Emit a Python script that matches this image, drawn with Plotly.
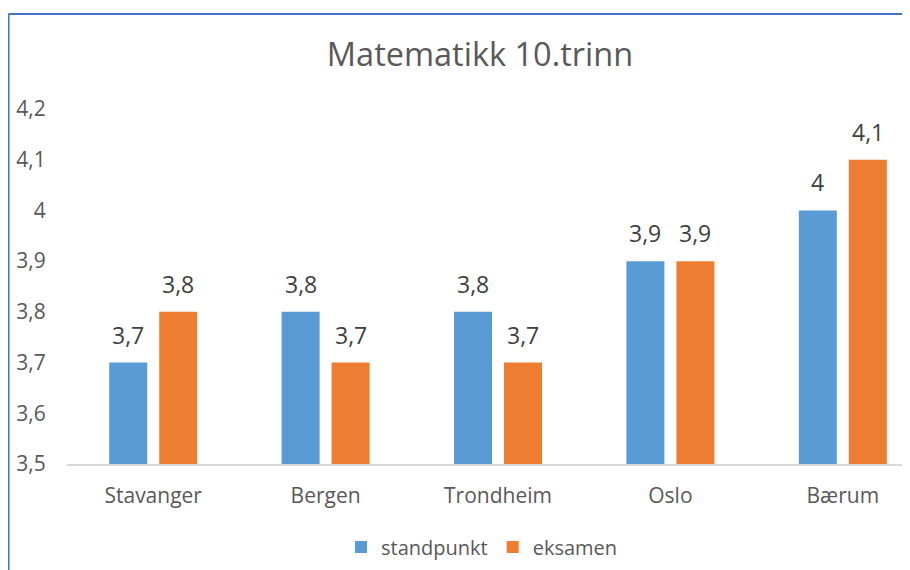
import plotly.graph_objects as go

categories = ["Stavanger", "Bergen", "Trondheim", "Oslo", "Bærum"]
standpunkt = [3.7, 3.8, 3.8, 3.9, 4.0]
eksamen = [3.8, 3.7, 3.7, 3.9, 4.1]
series_names = ["standpunkt", "eksamen"]
y_ticks = [3.5, 3.6, 3.7, 3.8, 3.9, 4.0, 4.1, 4.2]
title_text = "Matematikk 10.trinn"

# page has an 8px body margin; work in figure coordinates
OFF = 8
W, H = 910 - OFF, 570 - OFF
ML, MR, MT, MB = 67 - OFF, 0, 109 - OFF, 570 - 464
CAT_PX = 172.4
BLUE = "#5B9BD5"
ORANGE = "#ED7D31"
FONT = "Open Sans"
BARGAP = 0.42

plot_w = W - ML - MR
plot_h = H - MT - MB
x_max = plot_w / CAT_PX - 0.5

fig = go.Figure()
fig.add_trace(go.Bar(name=series_names[0], x=list(range(len(categories))), y=standpunkt,
                     marker=dict(color=BLUE, line=dict(width=0))))
fig.add_trace(go.Bar(name=series_names[1], x=list(range(len(categories))), y=eksamen,
                     marker=dict(color=ORANGE, line=dict(width=0))))

def fmt(v):
    return f"{v:g}".replace(".", ",")

slot = (1 - BARGAP) / 2
annotations = []
for vals, off in ((standpunkt, -slot / 2), (eksamen, slot / 2)):
    for i, v in enumerate(vals):
        annotations.append(dict(x=i + off, y=v, xref="x", yref="y", text=fmt(v),
                                showarrow=False, yanchor="bottom", yshift=10,
                                font=dict(family=FONT, size=23, color="#404040")))

def px_to_paper_x(px):
    return (px - ML) / plot_w

def px_to_paper_y(py):
    return (H - MB - py) / plot_h

border = "#4472C4"
shapes = [
    dict(type="line", xref="paper", yref="paper", x0=px_to_paper_x(0.5), x1=px_to_paper_x(0.5),
         y0=px_to_paper_y(14 - OFF), y1=px_to_paper_y(H + 5), line=dict(color=border, width=2)),
    dict(type="line", xref="paper", yref="paper", x0=px_to_paper_x(0.5), x1=px_to_paper_x(W + 5),
         y0=px_to_paper_y(14 - OFF), y1=px_to_paper_y(14 - OFF), line=dict(color=border, width=2)),
]

fig.update_layout(
    width=W, height=H,
    margin=dict(l=ML, r=MR, t=MT, b=MB, pad=0),
    paper_bgcolor="white", plot_bgcolor="white",
    separators=", ",
    barmode="group", bargap=BARGAP, bargroupgap=0.24,
    title=dict(text=title_text, x=(480 - OFF) / W, xref="container", xanchor="center",
               y=1 - (55 - OFF) / H, yref="container", yanchor="middle",
               font=dict(family=FONT, size=32.5, color="#595959")),
    font=dict(family=FONT, color="#595959"),
    xaxis=dict(tickmode="array", tickvals=list(range(len(categories))), ticktext=categories,
               range=[-0.5, x_max], showgrid=False, zeroline=False,
               showline=True, linecolor="#D9D9D9", linewidth=1.5,
               ticks="outside", ticklen=12, tickcolor="rgba(0,0,0,0)",
               tickfont=dict(family=FONT, size=21, color="#595959")),
    yaxis=dict(range=[3.5, 4.2], tickmode="array", tickvals=y_ticks, showgrid=False,
               zeroline=False, showline=False, ticks="outside", ticklen=16,
               tickcolor="rgba(0,0,0,0)",
               tickfont=dict(family=FONT, size=21, color="#595959")),
    legend=dict(orientation="h", x=(482 - OFF) / W, xref="container", xanchor="center",
                y=1 - (547 - OFF) / H, yref="container", yanchor="middle",
                font=dict(family=FONT, size=20, color="#595959"), itemwidth=30,
                traceorder="normal"),
    annotations=annotations,
    shapes=shapes,
)

fig.write_html("out.html")
